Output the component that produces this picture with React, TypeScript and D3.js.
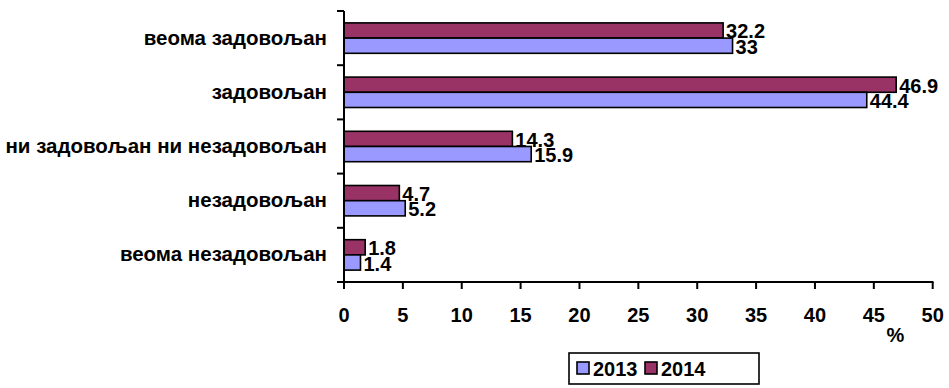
import React from "react";
import * as d3 from "d3";

const categories = [
  "веома задовољан",
  "задовољан",
  "ни задовољан ни незадовољан",
  "незадовољан",
  "веома незадовољан",
];
const seriesNames = ["2014", "2013"];
const values2014 = [32.2, 46.9, 14.3, 4.7, 1.8];
const values2013 = [33, 44.4, 15.9, 5.2, 1.4];
const xTicks = [0, 5, 10, 15, 20, 25, 30, 35, 40, 45, 50];
const colors: Record<string, string> = { "2014": "#993366", "2013": "#9999FF" };
const legendOrder = ["2013", "2014"];

const W = 949;
const H = 388;
const FONT = "'Liberation Sans', Arial, sans-serif";

export default function App() {
  const x = d3.scaleLinear().domain([0, 50]).range([344, 932.7]);
  const y = d3
    .scaleBand<string>()
    .domain(categories)
    .range([11, 282])
    .paddingInner(0.439)
    .paddingOuter(0.2195);
  const sub = d3.scaleBand<string>().domain(seriesNames).range([0, y.bandwidth()]);
  const step = y.step();
  const bounds = d3.range(categories.length + 1).map((i) => 11 + i * step);
  const seriesData: Record<string, number[]> = { "2014": values2014, "2013": values2013 };

  return (
    <svg
      width={W}
      height={H}
      style={{ position: "absolute", left: 0, top: 0, background: "#fff" }}
      fontFamily={FONT}
      fontWeight="bold"
    >
      {seriesNames.map((s) =>
        categories.map((c, i) => {
          const v = seriesData[s][i];
          const yy = (y(c) as number) + (sub(s) as number);
          return (
            <g key={s + c}>
              <rect
                x={x(0)}
                y={yy}
                width={x(v) - x(0)}
                height={sub.bandwidth()}
                fill={colors[s]}
                stroke="#000"
                strokeWidth={1.6}
              />
              <text x={x(v) + 3} y={yy + sub.bandwidth() / 2 + 8} fontSize={20} fill="#000">
                {String(v)}
              </text>
            </g>
          );
        })
      )}
      <line x1={344} x2={344} y1={11} y2={282} stroke="#000" strokeWidth={2} />
      {bounds.map((b, i) => (
        <line key={"yt" + i} x1={337} x2={344} y1={b} y2={b} stroke="#000" strokeWidth={2} />
      ))}
      {categories.map((c) => {
        const cy = (y(c) as number) + y.bandwidth() / 2 + 6.5;
        return (
          <text key={"cl" + c} x={327} y={cy} textAnchor="end" fontSize={20.5}>
            {c}
          </text>
        );
      })}
      <line x1={343} x2={933.5} y1={282} y2={282} stroke="#000" strokeWidth={2} />
      {xTicks.map((t) => (
        <g key={"xt" + t}>
          <line x1={x(t)} x2={x(t)} y1={282} y2={289} stroke="#000" strokeWidth={2} />
          <text x={x(t)} y={322} textAnchor="middle" fontSize={20}>
            {t}
          </text>
        </g>
      ))}
      <text x={895.5} y={342} textAnchor="middle" fontSize={20}>
        %
      </text>
      <rect x={569} y={353} width={190} height={31} fill="#fff" stroke="#000" strokeWidth={1.6} />
      {legendOrder.map((s, i) => (
        <g key={"lg" + s}>
          <rect x={577 + i * 68} y={362} width={12} height={12} fill={colors[s]} stroke="#000" strokeWidth={1.6} />
          <text x={593 + i * 68} y={376} fontSize={20}>
            {s}
          </text>
        </g>
      ))}
    </svg>
  );
}
